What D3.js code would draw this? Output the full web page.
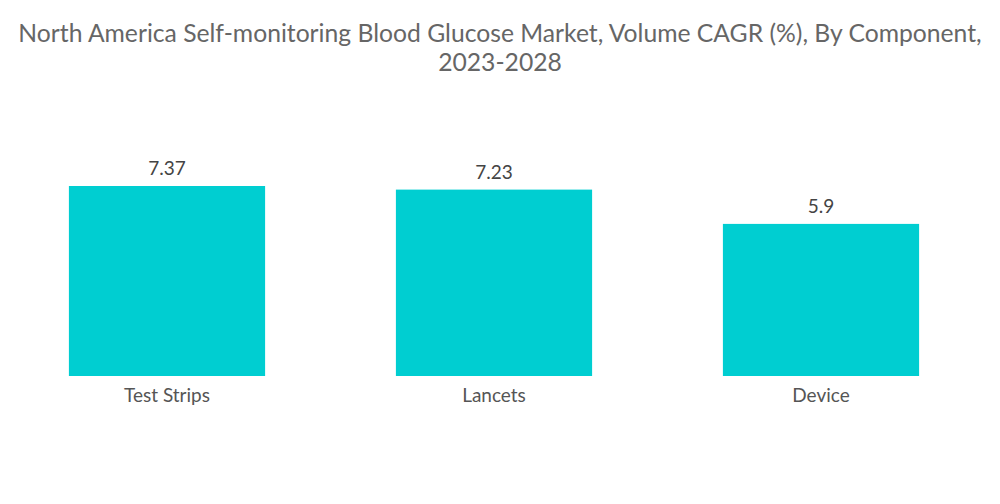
<!DOCTYPE html>
<html>
<head>
<meta charset="utf-8">
<script src="https://cdn.jsdelivr.net/npm/d3@7"></script>
<style>
  body { margin: 0; background: #fff; }
  text { font-family: Lato, "Open Sans", sans-serif; }
</style>
</head>
<body>
<div id="chart"></div>
<script>
// data
var components = ["Test Strips", "Lancets", "Device"];
var cagr = [7.37, 7.23, 5.9];
var titleLines = ["North America Self-monitoring Blood Glucose Market, Volume CAGR (%), By Component,", "2023-2028"];

var width = 1000, height = 504;
var svg = d3.select("#chart").append("svg")
  .attr("width", width).attr("height", height);

var x = d3.scaleBand()
  .domain(components)
  .range([3.5, 984.5])
  .paddingInner(0.4)
  .paddingOuter(0.2);

// baseline at 376, 7.37 reaches 186
var y = d3.scaleLinear()
  .domain([0, 7.37])
  .range([376, 186]);

svg.selectAll("text.title")
  .data(titleLines)
  .enter().append("text")
  .attr("class", "title")
  .attr("x", width / 2)
  .attr("y", function (d, i) { return 42 + i * 29; })
  .attr("text-anchor", "middle")
  .style("font-size", "24.7px")
  .style("fill", "#666")
  .text(function (d) { return d; });

var data = components.map(function (c, i) { return { name: c, value: cagr[i] }; });

svg.selectAll("rect.bar")
  .data(data)
  .enter().append("rect")
  .attr("class", "bar")
  .attr("x", function (d) { return x(d.name); })
  .attr("y", function (d) { return y(d.value); })
  .attr("width", x.bandwidth())
  .attr("height", function (d) { return y(0) - y(d.value); })
  .style("fill", "#00ced1");

svg.selectAll("text.val")
  .data(data)
  .enter().append("text")
  .attr("class", "val")
  .attr("x", function (d) { return x(d.name) + x.bandwidth() / 2; })
  .attr("y", function (d) { return y(d.value) - 11; })
  .attr("text-anchor", "middle")
  .style("font-size", "19px")
  .style("fill", "#444")
  .text(function (d) { return d.value; });

var xAxis = svg.append("g")
  .attr("transform", "translate(0," + y(0) + ")")
  .call(d3.axisBottom(x).tickSize(0).tickPadding(13));
xAxis.select(".domain").remove();
xAxis.selectAll("text")
  .style("font-size", "19px")
  .style("fill", "#555")
  .style("font-family", "Lato, 'Open Sans', sans-serif");
</script>
</body>
</html>
